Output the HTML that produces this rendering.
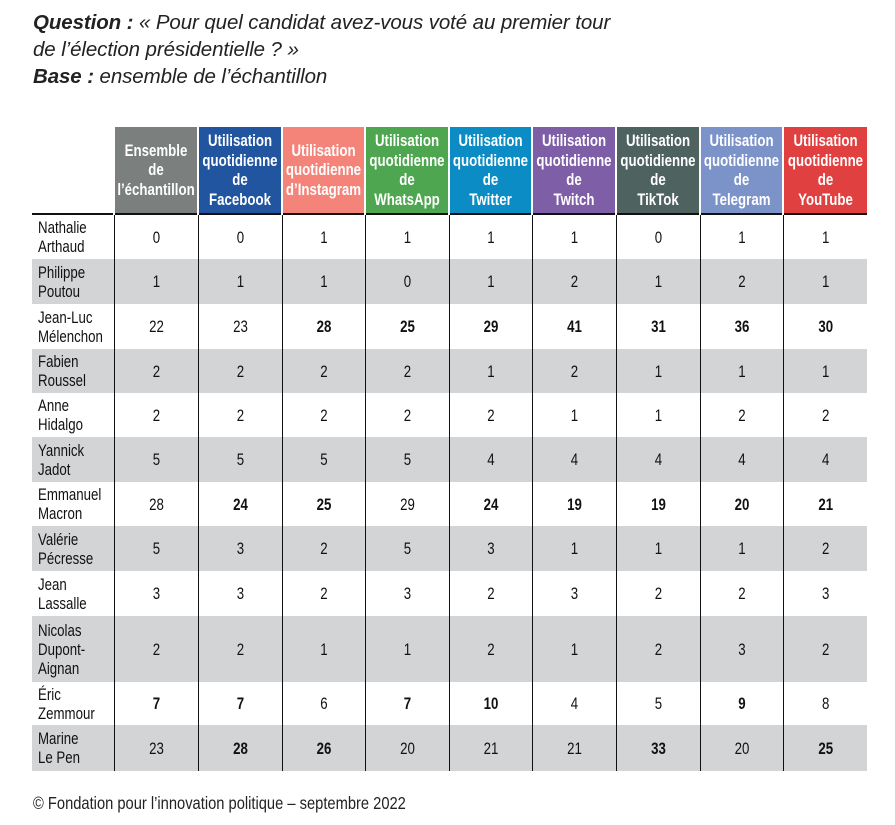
<!DOCTYPE html>
<html><head><meta charset="utf-8">
<style>
body{margin:0;width:895px;height:825px;background:#fff;font-family:"Liberation Sans",sans-serif;color:#111;position:relative;overflow:hidden}
.intro{position:absolute;left:33px;top:9px;font-style:italic;font-size:20.5px;line-height:27px;color:#222;letter-spacing:-0.1px}
table{position:absolute;left:32px;top:127px;width:835px;border-collapse:collapse;table-layout:fixed}
th{color:#fff;font-weight:bold;font-size:17px;line-height:19.5px;padding:0;text-align:center;height:86px;vertical-align:middle;border-left:2px solid #fff;overflow:hidden}
td{font-size:17px;text-align:center;padding:0;border-left:1.5px solid #111;line-height:19px;overflow:hidden}
.s{display:block;white-space:nowrap;transform:scaleX(0.78);transform-origin:center;margin:0 -30px}
td.name{text-align:left;padding-left:6px;border-left:none}
td.name .s{transform-origin:left;margin:0 -30px 0 0}
tr.g td{background:#d3d4d5}
tbody tr:first-child td{border-top:2px solid #111}
td.b{font-weight:bold}
.foot{position:absolute;left:33px;top:793px;font-size:17.5px;color:#222;transform:scaleX(0.84);transform-origin:left;white-space:nowrap}
</style></head><body>
<div class="intro"><b>Question :</b> « Pour quel candidat avez-vous voté au premier tour<br>de l’élection présidentielle ? »<br><b>Base :</b> ensemble de l’échantillon</div>
<table id="t">
<colgroup><col style="width:82px"><col style="width:84px"><col style="width:84px"><col style="width:83px"><col style="width:84px"><col style="width:83px"><col style="width:84px"><col style="width:84px"><col style="width:83px"><col style="width:84px"></colgroup>
<thead><tr id="hr"><th style="border-left:none;background:#fff"></th></tr></thead>
<tbody id="tb"></tbody></table>
<div class="foot">© Fondation pour l’innovation politique – septembre 2022</div>
<script>
const headers=["Ensemble<br>de<br>l’échantillon","Utilisation<br>quotidienne<br>de<br>Facebook","Utilisation<br>quotidienne<br>d’Instagram","Utilisation<br>quotidienne<br>de<br>WhatsApp","Utilisation<br>quotidienne<br>de<br>Twitter","Utilisation<br>quotidienne<br>de<br>Twitch","Utilisation<br>quotidienne<br>de<br>TikTok","Utilisation<br>quotidienne<br>de<br>Telegram","Utilisation<br>quotidienne<br>de<br>YouTube"];
const colors=["#7b7f7e","#2255a0","#f4847a","#4fa651","#0b8cc4","#7f5ea8","#4e6260","#7c93c9","#e0403f"];
const names=["Nathalie<br>Arthaud","Philippe<br>Poutou","Jean-Luc<br>Mélenchon","Fabien<br>Roussel","Anne<br>Hidalgo","Yannick<br>Jadot","Emmanuel<br>Macron","Valérie<br>Pécresse","Jean<br>Lassalle","Nicolas<br>Dupont-<br>Aignan","Éric<br>Zemmour","Marine<br>Le Pen"];
const values=[
[0,0,1,1,1,1,0,1,1],[1,1,1,0,1,2,1,2,1],[22,23,28,25,29,41,31,36,30],[2,2,2,2,1,2,1,1,1],
[2,2,2,2,2,1,1,2,2],[5,5,5,5,4,4,4,4,4],[28,24,25,29,24,19,19,20,21],[5,3,2,5,3,1,1,1,2],
[3,3,2,3,2,3,2,2,3],[2,2,1,1,2,1,2,3,2],[7,7,6,7,10,4,5,9,8],[23,28,26,20,21,21,33,20,25]];
const bold=[
[0,0,0,0,0,0,0,0,0],[0,0,0,0,0,0,0,0,0],[0,0,1,1,1,1,1,1,1],[0,0,0,0,0,0,0,0,0],
[0,0,0,0,0,0,0,0,0],[0,0,0,0,0,0,0,0,0],[0,1,1,0,1,1,1,1,1],[0,0,0,0,0,0,0,0,0],
[0,0,0,0,0,0,0,0,0],[0,0,0,0,0,0,0,0,0],[1,1,0,1,1,0,0,1,0],[0,1,1,0,0,0,1,0,1]];
const heights=[45,45,45,44,44,45,44,45,45,66,43,46];
const hr=document.getElementById('hr');
headers.forEach((h,i)=>{const th=document.createElement('th');th.innerHTML='<span class="s">'+h+'</span>';th.style.background=colors[i];


hr.appendChild(th);});
const tb=document.getElementById('tb');
names.forEach((n,r)=>{const tr=document.createElement('tr');if(r%2)tr.className='g';tr.style.height=heights[r]+'px';


const td=document.createElement('td');td.className='name';td.innerHTML='<span class="s">'+n+'</span>';


tr.appendChild(td);
values[r].forEach((v,c)=>{const d=document.createElement('td');d.innerHTML='<span class="s">'+v+'</span>';if(bold[r][c])d.classList.add('b');


tr.appendChild(d);});
tb.appendChild(tr);});
</script>
</body></html>
